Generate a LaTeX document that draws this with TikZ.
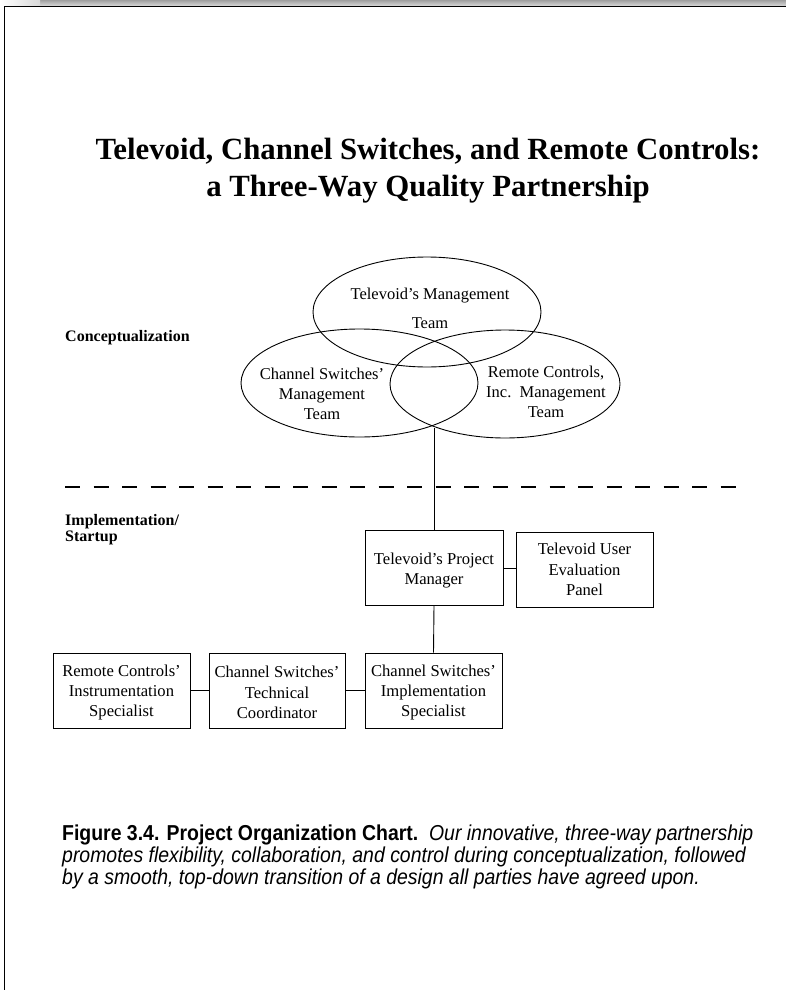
\documentclass[tikz,border=0pt]{standalone}
\usepackage{fontspec}
\setmainfont{Liberation Serif}
\newfontfamily\capfont[FakeStretch=0.9]{Liberation Sans}
\usetikzlibrary{shapes.geometric}
\begin{document}
\begin{tikzpicture}[x=1pt,y=-1pt,
  team/.style={draw,line width=0.9pt,ellipse,inner sep=0pt},
  unit/.style={draw,line width=0.9pt,rectangle,minimum height=75pt,inner sep=0pt},
  unittext/.style={align=center,inner sep=0pt,font=\fontsize{16.6}{20.3}\selectfont},
  label/.style={font=\fontsize{16.5}{20.3}\selectfont,align=center},
  phase/.style={font=\bfseries\fontsize{16}{16}\selectfont,align=left,anchor=base west,inner sep=0pt},
  link/.style={line width=0.9pt}]
\useasboundingbox (0,0) rectangle (786,990);
% page frame
\shade[top color=gray!75,bottom color=gray!30] (0,0) rectangle (786,6);
\shade[left color=white,right color=gray!30] (0,0) rectangle (40,6);
\draw[line width=1.6pt] (4.5,6.5) -- (786,6.5);
\draw[line width=1.4pt] (4.5,6.5) -- (4.5,990);
% title
\node[font=\bfseries\fontsize{30.8}{36.5}\selectfont,align=center,anchor=base,inner sep=0pt] (title) at (428,196)
  {Televoid, Channel Switches, and Remote Controls:\\a Three-Way Quality Partnership};
% management teams
\node[team,minimum width=228pt,minimum height=110pt] (tv) at (427,312) {};
\node[team,minimum width=237pt,minimum height=108pt] (cs) at (359.5,383) {};
\node[team,minimum width=230pt,minimum height=108pt] (rc) at (505,384) {};
\node[label] (tvl1) at (430,296) {Televoid's Management};
\node[label] (tvl2) at (430,323) {Team};
\node[label] (csl) at (322,394) {Channel Switches'\\Management\\Team};
\node[label] (rcl) at (546,392) {Remote Controls,\\Inc.\ \ Management\\Team};
\coordinate (venn) at (434,428);
% phases
\node[phase] (concept) at (65,341) {Conceptualization};
\draw[line width=2pt,dash pattern=on 15pt off 13.5pt] (65,487) -- (736,487);
\node[phase] (impl) at (65,541) {Implementation/\\Startup};
% implementation units
\node[unit,minimum width=138pt] (pm) at (434,567.5) {};
\node[unit,minimum width=137pt] (panel) at (584.5,569.5) {};
\node[unit,minimum width=137pt] (csi) at (433.5,690.5) {};
\node[unit,minimum width=136pt] (tc) at (277,690.5) {};
\node[unit,minimum width=137pt] (rci) at (121.5,690.5) {};
\node[unittext] (pmt) at ([yshift=-3pt]pm.center) {Televoid's Project\\Manager};
\node[unittext] (panelt) at ([yshift=0pt]panel.center) {Televoid User\\Evaluation\\Panel};
\node[unittext] (csit) at ([yshift=-2pt]csi.center) {Channel Switches'\\Implementation\\Specialist};
\node[unittext] (tct) at ([yshift=-2pt]tc.center) {Channel Switches'\\Technical\\Coordinator};
\node[unittext] (rcit) at ([yshift=-2pt]rci.center) {Remote Controls'\\Instrumentation\\Specialist};
\draw[link] (venn) -- (pm.north);
\draw[link] (pm.east |- 0,568) -- (panel.west |- 0,568);
\draw[link] (pm.south) -- (csi.north);
\draw[link] (csi) -- (tc);
\draw[link] (tc) -- (rci);
% caption
\node[anchor=base west,align=left,inner sep=0pt,font=\capfont\fontsize{21.6}{22}\selectfont] (cap) at (62,884)
  {\textbf{Figure 3.4. Project Organization Chart.}\ \ \textit{Our innovative, three-way partnership}\\
   \textit{promotes flexibility, collaboration, and control during conceptualization, followed}\\
   \textit{by a smooth, top-down transition of a design all parties have agreed upon.}};
\end{tikzpicture}
\end{document}
